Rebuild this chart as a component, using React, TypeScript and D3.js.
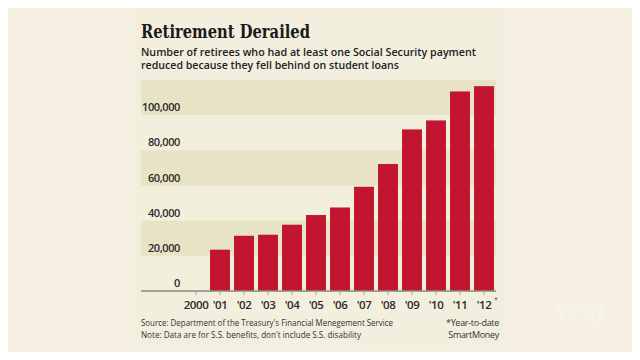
import { useEffect, useRef } from "react";
import * as d3 from "d3";

const years = ["2000", "'01", "'02", "'03", "'04", "'05", "'06", "'07", "'08", "'09", "'10", "'11", "'12"];
const retirees = [0, 23500, 31400, 32000, 37700, 43200, 47500, 59300, 72200, 91900, 97000, 113500, 116500];
const yTicks = [0, 20000, 40000, 60000, 80000, 100000];
const bandStarts = [20000, 60000, 100000]; // darker stripes

const W = 640;
const H = 360;

export default function App() {
  const svgRef = useRef<SVGSVGElement | null>(null);

  useEffect(() => {
    if (!svgRef.current) return;
    const svg = d3.select(svgRef.current);
    svg.selectAll("*").remove();

    // page + card background
    svg.append("rect").attr("width", W).attr("height", H).attr("fill", "#f5f0e1");
    svg.append("rect").attr("x", 130).attr("y", 0).attr("width", 375).attr("height", 350).attr("fill", "#f2efde");

    const x = d3.scaleBand<string>().domain(years).range([184, 496]).paddingInner(0.17).paddingOuter(0.085);
    const y = d3.scaleLinear().domain([0, 120000]).range([291, 80]);

    // stripes
    svg.append("rect")
      .attr("x", 141).attr("y", y(120000)).attr("width", 355).attr("height", y(0) - y(120000))
      .attr("fill", "#f2f0dc");
    svg.selectAll("rect.band")
      .data(bandStarts)
      .enter()
      .append("rect")
      .attr("class", "band")
      .attr("x", 141)
      .attr("y", (d) => y(d + 20000))
      .attr("width", 355)
      .attr("height", (d) => y(d) - y(d + 20000))
      .attr("fill", "#e8e3c4");

    // y labels above gridlines
    svg.selectAll("text.ytick")
      .data(yTicks)
      .enter()
      .append("text")
      .attr("class", "ytick")
      .attr("x", 180)
      .attr("y", (d) => y(d) - 4)
      .attr("text-anchor", "end")
      .style("font", "600 11px 'Open Sans', sans-serif")
      .style("letter-spacing", "-0.4px")
      .attr("fill", "#2a2a2a")
      .text((d) => d3.format(",")(d));

    // bars
    svg.selectAll("rect.bar")
      .data(years.map((yr, i) => ({ yr, v: retirees[i] })).filter((d) => d.v > 0))
      .enter()
      .append("rect")
      .attr("class", "bar")
      .attr("x", (d) => x(d.yr)!)
      .attr("y", (d) => y(d.v))
      .attr("width", x.bandwidth())
      .attr("height", (d) => y(0) - y(d.v))
      .attr("fill", "#c2152f");

    // baseline + ticks
    svg.append("line")
      .attr("x1", 141).attr("x2", 496).attr("y1", y(0)).attr("y2", y(0))
      .attr("stroke", "#8a887c").attr("stroke-width", 1.5);
    svg.selectAll("line.xt")
      .data(years)
      .enter()
      .append("line")
      .attr("class", "xt")
      .attr("x1", (d) => x(d)! + x.bandwidth() / 2)
      .attr("x2", (d) => x(d)! + x.bandwidth() / 2)
      .attr("y1", y(0))
      .attr("y2", y(0) + 4)
      .attr("stroke", "#a9a79a")
      .attr("stroke-width", 1);

    svg.selectAll("text.xl")
      .data(years)
      .enter()
      .append("text")
      .attr("class", "xl")
      .attr("x", (d) => x(d)! + x.bandwidth() / 2)
      .attr("y", 309)
      .attr("text-anchor", "middle")
      .style("font", "600 11.5px 'Open Sans', sans-serif")
      .style("letter-spacing", "-0.4px")
      .attr("fill", "#2a2a2a")
      .text((d) => d);
    svg.append("text")
      .attr("x", x("'12")! + x.bandwidth() / 2 + 10)
      .attr("y", 302)
      .style("font", "7px 'Open Sans', sans-serif")
      .attr("fill", "#555")
      .text("*");

    // titles
    svg.append("text")
      .attr("x", 141).attr("y", 38)
      .attr("textLength", 169).attr("lengthAdjust", "spacingAndGlyphs")
      .style("font", "bold 19px 'DejaVu Serif', serif")
      .attr("fill", "#1a1a1a")
      .text("Retirement Derailed");
    const sub = [
      "Number of retirees who had at least one Social Security payment",
      "reduced because they fell behind on student loans",
    ];
    const subLen = [335, 258];
    svg.selectAll("text.sub")
      .data(sub)
      .enter()
      .append("text")
      .attr("class", "sub")
      .attr("x", 141)
      .attr("y", (_d, i) => 55.5 + i * 13.5)
      .attr("textLength", (_d, i) => subLen[i])
      .attr("lengthAdjust", "spacingAndGlyphs")
      .style("font", "600 11.2px 'Open Sans', sans-serif")
      .attr("fill", "#222")
      .text((d) => d);

    // footnotes
    const notes = [
      "Source: Department of the Treasury's Financial Menegement Service",
      "Note: Data are for S.S. benefits, don't include S.S. disability",
    ];
    const noteLen = [252, 220];
    svg.selectAll("text.note")
      .data(notes)
      .enter()
      .append("text")
      .attr("class", "note")
      .attr("x", 141)
      .attr("y", (_d, i) => 326 + i * 12)
      .attr("textLength", (_d, i) => noteLen[i])
      .attr("lengthAdjust", "spacingAndGlyphs")
      .style("font", "9px 'Open Sans', sans-serif")
      .attr("fill", "#333")
      .text((d) => d);
    svg.selectAll("text.rnote")
      .data(["*Year-to-date", "SmartMoney"])
      .enter()
      .append("text")
      .attr("class", "rnote")
      .attr("x", 499)
      .attr("y", (_d, i) => 326 + i * 12)
      .attr("text-anchor", "end")
      .style("font", "9px 'Open Sans', sans-serif")
      .style("letter-spacing", "-0.3px")
      .attr("fill", "#333")
      .text((d) => d);

    // faint watermark
    svg.append("text")
      .attr("x", 580).attr("y", 322)
      .attr("text-anchor", "middle")
      .style("font", "bold 22px 'DejaVu Serif', serif")
      .attr("fill", "#ffffff")
      .attr("opacity", 0.2)
      .text("WSJ");
  }, []);

  return (
    <div style={{ margin: -8, width: W, height: H, overflow: "hidden" }}>
      <svg ref={svgRef} width={W} height={H} style={{ display: "block" }} />
    </div>
  );
}
